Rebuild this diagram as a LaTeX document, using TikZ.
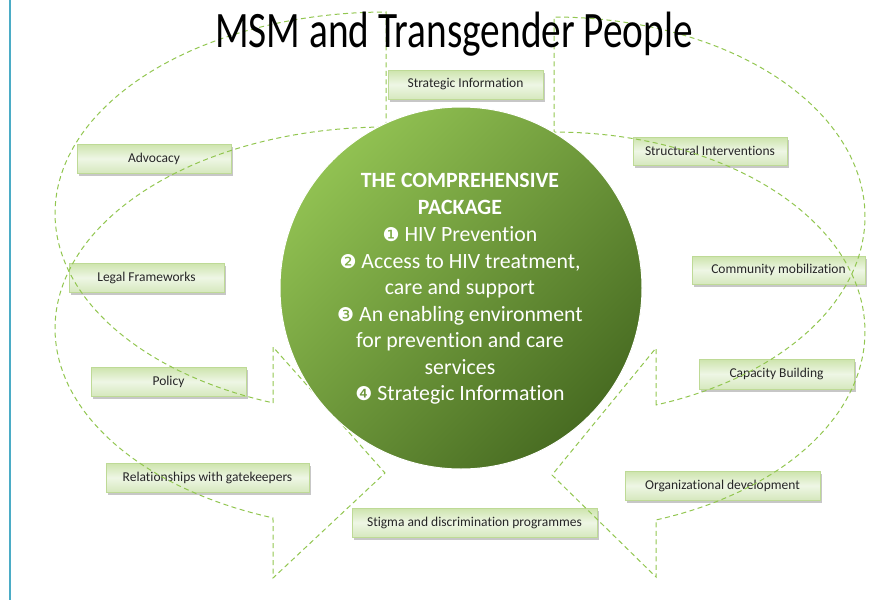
\documentclass[tikz,border=0pt]{standalone}
\usepackage{fontspec}
\usepackage{graphicx}
\setmainfont{Carlito}[Ligatures=NoCommon]
\newfontfamily\dvsans{DejaVu Sans}
\usetikzlibrary{shadows}
\definecolor{dashgreen}{RGB}{146,198,80}
\definecolor{boxline}{RGB}{190,218,150}
\definecolor{boxtop}{RGB}{205,228,172}
\definecolor{boxmid}{RGB}{238,246,229}
\definecolor{boxbot}{RGB}{214,232,190}
\definecolor{circlight}{RGB}{145,193,82}
\definecolor{circdark}{RGB}{72,108,34}
\definecolor{tealline}{RGB}{75,172,198}
\tikzset{
  dline/.style={draw=dashgreen, line width=1pt, dash pattern=on 5pt off 3.5pt, line join=miter},
  lbl/.style={draw=boxline, line width=0.8pt, top color=boxtop, bottom color=boxbot, middle color=boxmid,
    inner sep=0pt, font=\fontsize{13.5}{16}\selectfont, text=black!85,
    drop shadow={shadow xshift=1.5pt, shadow yshift=-2.5pt, fill=black, opacity=0.22}},
  ctext/.style={text=white, anchor=base, font=\fontsize{21.8}{26.7}\selectfont},
}
\newcommand\cnum[1]{{\dvsans\fontsize{19}{20}\selectfont #1}}
\begin{document}
\begin{tikzpicture}[x=1pt,y=-1pt]
\useasboundingbox (0,0) rectangle (887,600);
% left border line
\coordinate (ltop) at (10,0);
\coordinate (lbot) at (10,600);
\draw[tealline, line width=2pt] (ltop) -- (lbot);

% boxes
\node[lbl, minimum width=155pt, minimum height=29pt] (sinfo) at (465.5,84.5) {Strategic Information};
\node[lbl, minimum width=154pt, minimum height=29pt] (adv) at (154,158.5) {Advocacy};
\node[lbl, minimum width=154pt, minimum height=28pt] (struct) at (710,151) {Structural Interventions};
\node[lbl, minimum width=155pt, minimum height=29pt] (legal) at (146.5,277.5) {Legal Frameworks};
\node[lbl, minimum width=173pt, minimum height=28pt] (comm) at (778.5,270) {Community mobilization};
\node[lbl, minimum width=155pt, minimum height=29pt] (policy) at (168.5,381.5) {Policy};
\node[lbl, minimum width=155pt, minimum height=30pt] (cap) at (776.5,374) {Capacity Building};
\node[lbl, minimum width=203pt, minimum height=29pt] (rel) at (207.5,477.5) {Relationships with gatekeepers};
\node[lbl, minimum width=195pt, minimum height=29pt] (org) at (722.5,485.5) {Organizational development};
\node[lbl, minimum width=245pt, minimum height=29pt] (stig) at (474.5,522.5) {Stigma and discrimination programmes};

% left curved arrow
\draw[dline] (273,403) -- (273,347) -- (385,473) -- (273,578) -- (273,520)
  -- plot[domain=110:270, samples=90] ({386+331*cos(\x)},{328.5+201.5*sin(\x)})
  -- (386,12)
  -- plot[domain=270:110, samples=90] ({386+331*cos(\x)},{213.5+201.5*sin(\x)})
  -- cycle;
% right curved arrow
\draw[dline] (656,405) -- (656,348) -- (552,475) -- (656,577) -- (656,520)
  -- plot[domain=70.9:-90, samples=90] ({554+311*cos(\x)},{331.5+199.5*sin(\x)})
  -- (554,17)
  -- plot[domain=-90:70.9, samples=90] ({554+311*cos(\x)},{216.5+199.5*sin(\x)})
  -- cycle;

% central circle
\node[circle, minimum size=362pt, inner sep=0pt, draw=white, line width=1pt,
  top color=circlight, bottom color=circdark, shading angle=45] (pkg) at (461,288) {};
\node[ctext, font=\bfseries\fontsize{21.8}{26.7}\selectfont] (c1) at (460,187) {THE COMPREHENSIVE};
\node[ctext, font=\bfseries\fontsize{21.8}{26.7}\selectfont] (c2) at (460,214) {PACKAGE};
\node[ctext] (c3) at (460,241.5) {\cnum{❶} HIV Prevention};
\node[ctext] (c4) at (460,268) {\cnum{❷} Access to HIV treatment,};
\node[ctext] (c5) at (460,294.5) {care and support};
\node[ctext] (c6) at (460,321) {\cnum{❸} An enabling environment};
\node[ctext] (c7) at (460,347.5) {for prevention and care};
\node[ctext] (c8) at (460,374) {services};
\node[ctext] (c9) at (460,400.5) {\cnum{❹} Strategic Information};

% title
\node[anchor=base, font=\fontsize{39.3}{47}\selectfont] (title) at (454,47)
  {\scalebox{1}[1.3]{MSM and Transgender People}};
\end{tikzpicture}
\end{document}
